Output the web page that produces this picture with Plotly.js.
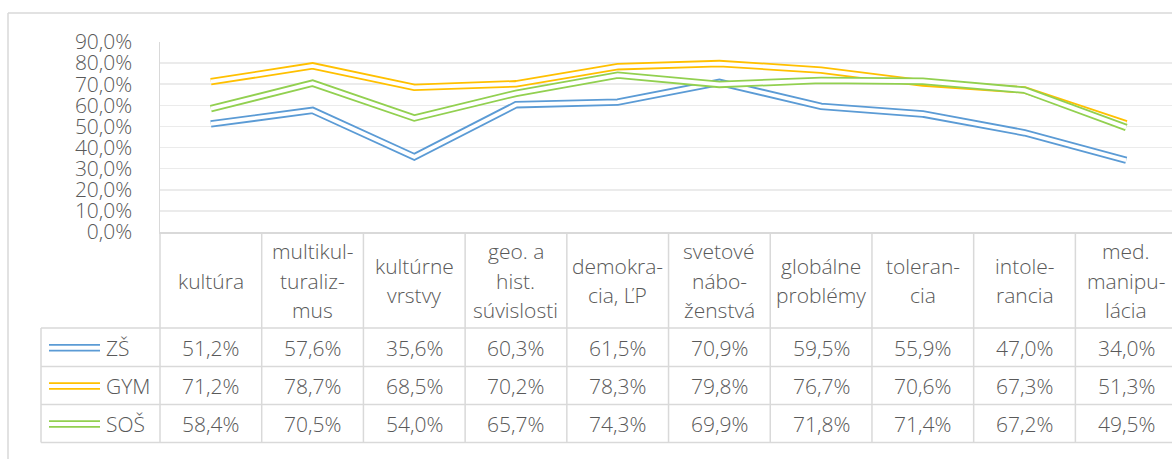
<!DOCTYPE html>
<html><head><meta charset="utf-8">
<script src="https://cdn.plot.ly/plotly-3.0.1.min.js"></script>
<style>html,body{margin:0;padding:0;background:#fff;overflow:hidden}#chart{width:1172px;height:459px}</style>
</head><body><div id="chart"></div>
<script>
// ---- data ----
const categories = ['kultúra', 'multikul-<br>turaliz-<br>mus', 'kultúrne<br>vrstvy', 'geo. a<br>hist.<br>súvislosti',
  'demokra-<br>cia, ĽP', 'svetové<br>nábo-<br>ženstvá', 'globálne<br>problémy', 'toleran-<br>cia',
  'intole-<br>rancia', 'med.<br>manipu-<br>lácia'];
const seriesNames = ['ZŠ', 'GYM', 'SOŠ'];
const zsValues  = [51.2, 57.6, 35.6, 60.3, 61.5, 70.9, 59.5, 55.9, 47.0, 34.0];
const gymValues = [71.2, 78.7, 68.5, 70.2, 78.3, 79.8, 76.7, 70.6, 67.3, 51.3];
const sosValues = [58.4, 70.5, 54.0, 65.7, 74.3, 69.9, 71.8, 71.4, 67.2, 49.5];
const yTickValues = [0, 10, 20, 30, 40, 50, 60, 70, 80, 90];
const yTickLabels = ['0,0%', '10,0%', '20,0%', '30,0%', '40,0%', '50,0%', '60,0%', '70,0%', '80,0%', '90,0%'];

// ---- style ----
const seriesValues = [zsValues, gymValues, sosValues];
const seriesColors = ['#5B9BD5', '#FFC000', '#92D050'];
const TEXT = '#595959', GRID = '#ebebeb', BORDER = '#d9d9d9';
const FONT = {family: '"Open Sans", "Noto Sans", sans-serif', size: 21, color: TEXT, weight: 300};
const W = 1172, H = 459, L = 160, T = 42, B = 227, R = 0;
const plotW = W - L - R, plotH = H - T - B;
const px = x => (x - L) / plotW;
const py = y => (T + plotH - y) / plotH;
const fmt = v => v.toFixed(1).replace('.', ',') + '%';

const idx = categories.map((c, i) => i);
const traces = [];
seriesValues.forEach((vals, s) => {
  traces.push({x: idx, y: vals, type: 'scatter', mode: 'lines', name: seriesNames[s],
    line: {color: seriesColors[s], width: 7.4}, hoverinfo: 'skip'});
  traces.push({x: idx, y: vals, type: 'scatter', mode: 'lines', showlegend: false,
    line: {color: '#ffffff', width: 3.8}, hoverinfo: 'skip'});
});

const shapes = [];
const annotations = [];
const lineShape = (x0, y0, x1, y1, xref) => ({type: 'line', xref: xref || 'paper', yref: 'paper',
  x0: x0, x1: x1, y0: y0, y1: y1, line: {color: BORDER, width: 1.5}, layer: 'above'});

// chart frame
shapes.push(lineShape(px(8), py(13), px(8), py(470)));
shapes.push(lineShape(px(8), py(13), px(1180), py(13)));

// table grid
const headerTop = 232;
const rowBounds = [328, 366.5, 404.5, 442.5];
rowBounds.forEach(y => shapes.push(lineShape(px(41), py(y), px(1180), py(y))));
shapes.push(lineShape(px(41), py(328), px(41), py(442.5)));
shapes.push(lineShape(0, py(headerTop), 0, py(442.5)));
for (let i = 1; i <= categories.length; i++) {
  shapes.push(lineShape(i - 0.5, py(headerTop), i - 0.5, py(442.5), 'x'));
}

// header labels
const headerCenter = 280.5, lineGap = 29.5;
categories.forEach((c, i) => {
  const lines = c.split('<br>');
  lines.forEach((t, k) => {
    annotations.push({xref: 'x', yref: 'paper', x: i, y: py(headerCenter + (k - (lines.length - 1) / 2) * lineGap),
      text: t, showarrow: false, xanchor: 'center', yanchor: 'middle', font: FONT});
  });
});

// rows: legend keys, names, values
seriesValues.forEach((vals, s) => {
  const yc = (rowBounds[s] + rowBounds[s + 1]) / 2 + 0.5;
  shapes.push({type: 'line', xref: 'paper', yref: 'paper', x0: px(49), x1: px(100), y0: py(yc), y1: py(yc),
    line: {color: seriesColors[s], width: 7.4}, layer: 'above'});
  shapes.push({type: 'line', xref: 'paper', yref: 'paper', x0: px(48), x1: px(101), y0: py(yc), y1: py(yc),
    line: {color: '#ffffff', width: 3.8}, layer: 'above'});
  annotations.push({xref: 'paper', yref: 'paper', x: px(104), y: py(yc), text: seriesNames[s],
    showarrow: false, xanchor: 'left', yanchor: 'middle', font: FONT});
  vals.forEach((v, i) => {
    annotations.push({xref: 'x', yref: 'paper', x: i, y: py(yc), text: fmt(v),
      showarrow: false, xanchor: 'center', yanchor: 'middle', font: FONT});
  });
});

const layout = {
  width: W, height: H,
  margin: {l: L, r: R, t: T, b: B, pad: 0},
  paper_bgcolor: '#ffffff', plot_bgcolor: '#ffffff',
  showlegend: false,
  font: FONT,
  xaxis: {range: [-0.5, 9.45], showticklabels: false, showgrid: false, zeroline: false,
    showline: true, linecolor: BORDER, linewidth: 1.5, ticks: ''},
  yaxis: {range: [0, 90], tickmode: 'array', tickvals: yTickValues, ticktext: yTickLabels,
    showgrid: true, gridcolor: GRID, gridwidth: 1.5, zeroline: false,
    showline: true, linecolor: BORDER, linewidth: 1.5, ticks: '', ticklabelstandoff: 22,
    tickfont: FONT},
  shapes: shapes,
  annotations: annotations
};

Plotly.newPlot('chart', traces, layout, {staticPlot: true, displayModeBar: false});
</script>
</body></html>
